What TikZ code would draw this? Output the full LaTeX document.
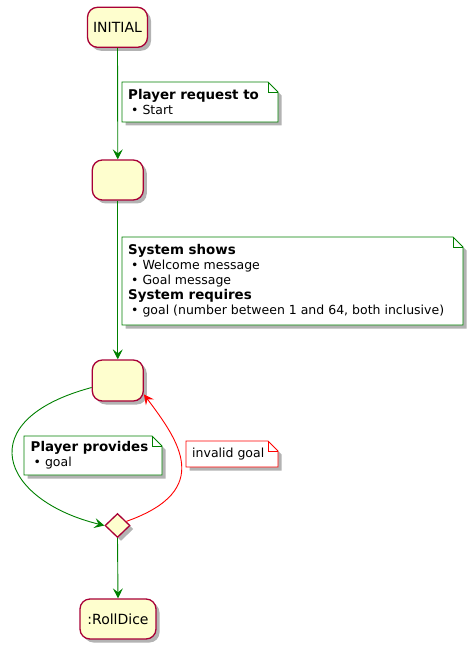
\documentclass[tikz,border=0pt]{standalone}
\usepackage{fontspec}
\setmainfont{DejaVu Sans}
\usetikzlibrary{arrows.meta,shapes.geometric,shadows,backgrounds}
\definecolor{stfill}{HTML}{FEFECE}
\definecolor{stborder}{HTML}{A80036}
\definecolor{arrgreen}{HTML}{008000}
\definecolor{arrred}{HTML}{FF0000}
\tikzset{
  x=1pt, y=-1pt,
  shd/.style={drop shadow={shadow xshift=3.5pt, shadow yshift=-3.5pt, fill=black!50, opacity=0.6}},
  statebox/.style={rectangle, rounded corners=10pt, draw=stborder, line width=1.3pt, fill=stfill, shd,
    inner sep=0pt, font=\fontsize{14}{16}\selectfont},
  choice/.style={diamond, draw=stborder, line width=1.3pt, fill=stfill, shd, inner sep=0pt,
    minimum width=25pt, minimum height=24pt},
  notetext/.style={anchor=west, inner sep=0pt, align=left,
    font=\fontsize{12.5}{15}\selectfont},
  flow/.style={draw=arrgreen, line width=0.9pt, -{Stealth[length=10pt, width=10pt, inset=4pt]}},
  back/.style={draw=arrred, line width=0.9pt, -{Stealth[length=10pt, width=10pt, inset=4pt]}},
}
% #1 name, #2 color, #3 #4 top-left, #5 #6 bottom-right
\newcommand{\notebox}[6]{%
  \coordinate (#1nw) at (#3,#4);
  \coordinate (#1se) at (#5,#6);
  \fill[black!50, opacity=0.6, transform canvas={shift={(3.5pt,-3.5pt)}}]
    (#3,#4) -- (#5-10,#4) -- (#5,#4+10) -- (#5,#6) -- (#3,#6) -- cycle;
  \filldraw[draw=#2, fill=white, line width=0.9pt]
    (#3,#4) -- (#5-10,#4) -- (#5,#4+10) -- (#5,#6) -- (#3,#6) -- cycle;
  \draw[#2, line width=0.9pt] (#5-10,#4) -- (#5-10,#4+10) -- (#5,#4+10);}
\newcommand{\blt}{\hspace*{3pt}\textbullet\ }
\newcommand{\bt}[1]{{\fontsize{13.4}{15}\selectfont\bfseries #1}}
\begin{document}
\begin{tikzpicture}
\useasboundingbox (0,0) rectangle (469,652);
% states
\node[statebox, minimum width=60pt, minimum height=40pt] (init) at (117.5,27.3) {INITIAL};
\node[statebox, minimum width=51pt, minimum height=40pt] (s2) at (117.8,180) {};
\node[statebox, minimum width=51pt, minimum height=41pt] (s3) at (117.8,380.5) {};
\node[choice] (dia) at (117.5,525.5) {};
\node[statebox, minimum width=76pt, minimum height=40pt] (roll) at (118,619) {:RollDice};
% notes
\notebox{b1}{arrgreen}{122}{82}{278}{122}
\node[notetext] (n1) at (128,102)
  {\bt{Player request to}\\\blt Start};
\notebox{b2}{arrgreen}{122}{237}{463}{325}
\node[notetext] (n2) at (128,281)
  {\bt{System shows}\\\blt Welcome message\\\blt Goal message\\\bt{System requires}\\\blt goal (number between 1 and 64, both inclusive)};
\notebox{b3}{arrgreen}{24}{436}{162}{475}
\node[notetext] (n3) at (30.5,455.5)
  {\bt{Player provides}\\\blt goal};
\notebox{b4}{arrred}{186}{441}{278}{467}
\node[notetext] (n4) at (192,454)
  {invalid goal};
% connectors
\draw[flow] (init.south) -- (s2.north);
\draw[flow] (s2.south) -- (s3.north);
\draw[flow] (s3.195) .. controls (-30,420) and (0,500) .. (dia.west);
\draw[back] (dia.25) .. controls (215,490) and (178,440) .. (s3.-28);
\draw[flow] (dia.south) -- (roll.north);
\end{tikzpicture}
\end{document}
